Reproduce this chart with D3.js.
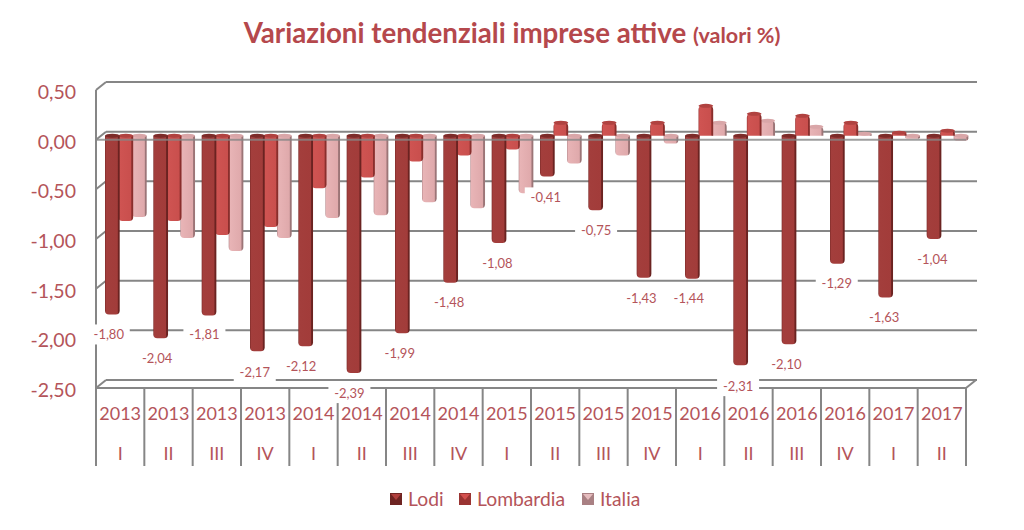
<!DOCTYPE html>
<html><head><meta charset="utf-8">
<script src="https://cdn.jsdelivr.net/npm/d3@7"></script>
<style>html,body{margin:0;background:#fff}svg{display:block}text{font-family:Lato,Carlito,sans-serif}</style>
</head><body><svg id="c" width="1024" height="530"></svg>
<script>
const years=["2013","2013","2013","2013","2014","2014","2014","2014","2015","2015","2015","2015","2016","2016","2016","2016","2017","2017"];
const quarters=["I","II","III","IV","I","II","III","IV","I","II","III","IV","I","II","III","IV","I","II"];
const seriesNames=["Lodi","Lombardia","Italia"];
const lodi=[-1.80,-2.04,-1.81,-2.17,-2.12,-2.39,-1.99,-1.48,-1.08,-0.41,-0.75,-1.43,-1.44,-2.31,-2.10,-1.29,-1.63,-1.04];
const lombardia=[-0.86,-0.86,-1.00,-0.92,-0.53,-0.42,-0.26,-0.20,-0.14,0.13,0.13,0.13,0.30,0.22,0.20,0.13,0.03,0.05];
const italia=[-0.82,-1.03,-1.16,-1.03,-0.83,-0.80,-0.67,-0.73,-0.58,-0.28,-0.20,-0.08,0.13,0.15,0.09,0.02,-0.03,-0.05];
const yTicks=[0.5,0,-0.5,-1,-1.5,-2,-2.5];
// label placement relative to the Lodi bar end (layout only)
const labelDx=[-3,-3,-4,-2,-4,-4,-2,-1,-1,-1,1,-2,-3,-2,-2,0,-1,-1];
const labelDy=[20,20,19,21,20,20,20,20,21,21,20,21,20,21,20,20,20,21];

const svg=d3.select("#c");
const ink="#b4545a", grey="#868686", DX=10, DY=8;
const fmt=v=>d3.format(".2f")(v).replace(".",",").replace("−","-");
const x=d3.scaleBand().domain(d3.range(18)).range([96,966]).paddingInner(0).paddingOuter(0);
const y=d3.scaleLinear().domain([-2.5,0.5]).range([388,90]);
const inner=d3.scaleBand().domain(seriesNames).range([9,49.5]);
const fills=[["#7a2a28","#a33e3c","#a23c3a","#6b2321"],["#9a3432","#cf5452","#c94f4d","#8a2e2c"],["#b58c8f","#e8b4b6","#dfa9ab","#9c7577"]];
const caps=["#7c2b29","#b04240","#d9a6a8"];

const defs=svg.append("defs");
fills.forEach((f,i)=>{
  const g=defs.append("linearGradient").attr("id","g"+i);
  [[0,f[0]],[.08,f[1]],[.84,f[2]],[.9,f[3]],[1,f[3]]].forEach(s=>g.append("stop").attr("offset",s[0]).attr("stop-color",s[1]));
});

svg.append("text").attr("x",512).attr("y",43).attr("text-anchor","middle").attr("fill","#b5484c")
  .attr("font-size",27.7).attr("font-weight",700).text("Variazioni tendenziali imprese attive ")
  .append("tspan").attr("font-size",21.5).text("(valori %)");

// back wall gridlines + left wall links
const gl=svg.append("g").attr("stroke",grey).attr("stroke-width",2).attr("fill","none");
yTicks.forEach(t=>{
  gl.append("line").attr("x1",96+DX).attr("x2",966+DX+1).attr("y1",y(t)-DY).attr("y2",y(t)-DY);
  gl.append("line").attr("x1",96).attr("x2",96+DX).attr("y1",y(t)).attr("y2",y(t)-DY);
});
gl.append("line").attr("x1",96).attr("x2",96).attr("y1",y(0.5)).attr("y2",y(-2.5));
gl.append("line").attr("x1",96).attr("x2",966).attr("y1",y(-2.5)).attr("y2",y(-2.5));
gl.append("line").attr("x1",966).attr("x2",966+DX).attr("y1",y(-2.5)).attr("y2",y(-2.5)-DY);

// bars
const all=[lodi,lombardia,italia];
const bars=svg.append("g");
[2,1,0].forEach(s=>{
  const name=seriesNames[s];
  const w=inner.bandwidth()+1.2;
  all[s].forEach((v,i)=>{
    const bx=x(i)+inner(name), y0=y(0)-4, y1=y(v)-4, r=Math.min(4,Math.abs(y1-y0)/2);
    const neg=v<0, top=Math.min(y0,y1), bot=Math.max(y0,y1);
    const p=neg
      ?`M${bx},${top}H${bx+w}V${bot-r}Q${bx+w},${bot} ${bx+w-r},${bot}H${bx+r}Q${bx},${bot} ${bx},${bot-r}Z`
      :`M${bx},${bot}H${bx+w}V${top+r}Q${bx+w},${top} ${bx+w-r},${top}H${bx+r}Q${bx},${top} ${bx},${top+r}Z`;
    bars.append("path").attr("d",p).attr("fill",`url(#g${s})`);
    bars.append("ellipse").attr("cx",bx+w/2).attr("cy",top).attr("rx",w/2).attr("ry",2).attr("fill",caps[s]);
  });
});
// front zero line
svg.append("line").attr("x1",96).attr("x2",966).attr("y1",y(0)).attr("y2",y(0)).attr("stroke",grey).attr("stroke-width",2).attr("stroke-opacity",.8);

// multi-level category table
const tb=svg.append("g").attr("stroke",grey).attr("stroke-width",2);
d3.range(19).forEach(i=>{
  const px=i<18?x(i):966;
  tb.append("line").attr("x1",px).attr("x2",px).attr("y1",y(-2.5)).attr("y2",466);
});
const lab=svg.append("g").attr("fill",ink).attr("text-anchor","middle").attr("font-size",18);
years.forEach((d,i)=>{
  const cx=x(i)+x.bandwidth()/2;
  lab.append("text").attr("x",cx).attr("y",420).text(d);
  lab.append("text").attr("x",cx).attr("y",460).text(quarters[i]);
});

// y ticks
const yl=svg.append("g").attr("fill",ink).attr("text-anchor","end").attr("font-size",19.5);
yTicks.forEach(t=>yl.append("text").attr("x",76).attr("y",y(t)+9).text(fmt(t)));

// value labels with white boxes
const dl=svg.append("g");
lodi.forEach((v,i)=>{
  const cx=x(i)+inner("Lodi")+inner.bandwidth()/2+labelDx[i], cy=y(v)-4+labelDy[i];
  dl.append("rect").attr("x",cx-21).attr("y",cy-10).attr("width",42).attr("height",20).attr("fill","#fff");
  dl.append("text").attr("x",cx).attr("y",cy+4.5).attr("text-anchor","middle").attr("fill",ink).attr("font-size",13).text(fmt(v));
});

// legend
const lgX=[390,459,582], lgColors=[["#6e2422","#b03f3d"],["#9a3432","#d3504e"],["#a98083","#e6bcbe"]];
seriesNames.forEach((n,i)=>{
  const g=svg.append("g").attr("transform",`translate(${lgX[i]},493)`);
  g.append("rect").attr("width",12).attr("height",12).attr("fill",lgColors[i][0]);
  g.append("path").attr("d","M1,1H11L6,7Z").attr("fill",lgColors[i][1]);
  g.append("text").attr("x",18).attr("y",12.5).attr("fill",ink).attr("font-size",19.3).text(n);
});
</script></body></html>
